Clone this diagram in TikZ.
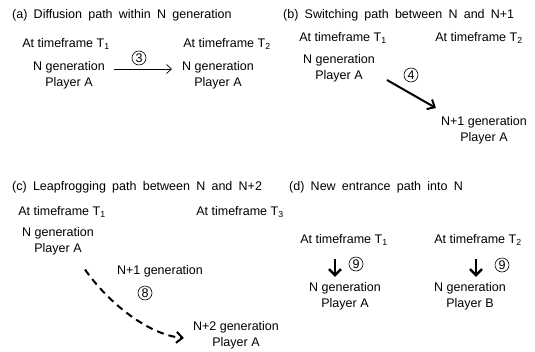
\documentclass[tikz,border=0pt]{standalone}
\usepackage{fontspec}
\setmainfont{Liberation Sans}
\usetikzlibrary{arrows.meta}
\begin{document}
\begin{tikzpicture}[x=1pt,y=-1pt,
  txt/.style={font=\fontsize{12.5}{16}\selectfont, inner sep=0pt, align=center},
  ttl/.style={font=\fontsize{12.5}{15}\selectfont, inner sep=0pt, anchor=west, execute at begin node={\spaceskip=0.5em\relax}},
  num/.style={circle, draw, line width=0.6pt, inner sep=0pt, minimum size=14pt, font=\fontsize{12.5}{12.5}\selectfont},
  thinarrow/.style={line width=0.7pt, -{Straight Barb[length=5pt,width=9pt]}},
  boldarrow/.style={line width=2pt, -{Straight Barb[length=6pt,width=11pt]}},
  downarrow/.style={line width=2.6pt, -{Straight Barb[length=6pt,width=12pt]}},
  dasharrow/.style={line width=2pt, dash pattern=on 7pt off 5pt, -{Straight Barb[length=6pt,width=11pt]}},
 ]
\useasboundingbox (0,0) rectangle (535,351);

% (a)
\node[ttl] (ta) at (12,15) {(a) Diffusion path within N generation};
\node[txt] (ta1) at (66,44) {At timeframe T\textsubscript{1}};
\node[txt] (ta2) at (227,44) {At timeframe T\textsubscript{2}};
\node[txt] (na1) at (69,75) {N generation\\Player A};
\node[txt] (na2) at (218,75) {N generation\\Player A};
\node[num] (c3) at (139,58) {3};
\draw[thinarrow] ([xshift=9pt,yshift=6pt]na1.east) -- ([xshift=-10pt,yshift=6pt]na2.west);

% (b)
\node[ttl] (tb) at (283,15) {(b) Switching path between N and N+1};
\node[txt] (tb1) at (343,38) {At timeframe T\textsubscript{1}};
\node[txt] (tb2) at (479,38) {At timeframe T\textsubscript{2}};
\node[txt] (nb1) at (339,68) {N generation\\Player A};
\node[txt] (nb2) at (484,130) {N+1 generation\\Player A};
\node[num] (c4) at (411,75) {4};
\draw[boldarrow] ([xshift=12pt,yshift=-12pt]nb1.east) -- ([xshift=-5pt,yshift=22pt]nb2.west);

% (c)
\node[ttl] (tc) at (12,187) {(c) Leapfrogging path between N and N+2};
\node[txt] (tc1) at (62,212) {At timeframe T\textsubscript{1}};
\node[txt] (tc3) at (240,212) {At timeframe T\textsubscript{3}};
\node[txt] (nc1) at (58,241.5) {N generation\\Player A};
\node[txt] (nc15) at (160,271) {N+1 generation};
\node[num] (c8) at (145,293) {8};
\node[txt] (nc2) at (236,335.5) {N+2 generation\\Player A};
\draw[dasharrow] ([xshift=27pt,yshift=-14pt]nc1.south) .. controls (110,305) and (150,335) .. ([xshift=-9pt,yshift=-2.5pt]nc2.west);

% (d)
\node[ttl] (td) at (289,187) {(d) New entrance path into N};
\node[txt] (td1) at (344,240) {At timeframe T\textsubscript{1}};
\node[txt] (td2) at (478,240) {At timeframe T\textsubscript{2}};
\node[txt] (nd1) at (345,296.5) {N generation\\Player A};
\node[txt] (nd2) at (470,296.5) {N generation\\Player B};
\node[num] (c9a) at (356,264) {9};
\node[num] (c9b) at (502,265) {9};
\draw[downarrow] ([xshift=-9pt,yshift=-13pt]td1.south) -- ([xshift=-10pt,yshift=5.5pt]nd1.north);
\draw[downarrow] ([xshift=-2pt,yshift=-13pt]td2.south) -- ([xshift=6pt,yshift=5.5pt]nd2.north);
\end{tikzpicture}
\end{document}
